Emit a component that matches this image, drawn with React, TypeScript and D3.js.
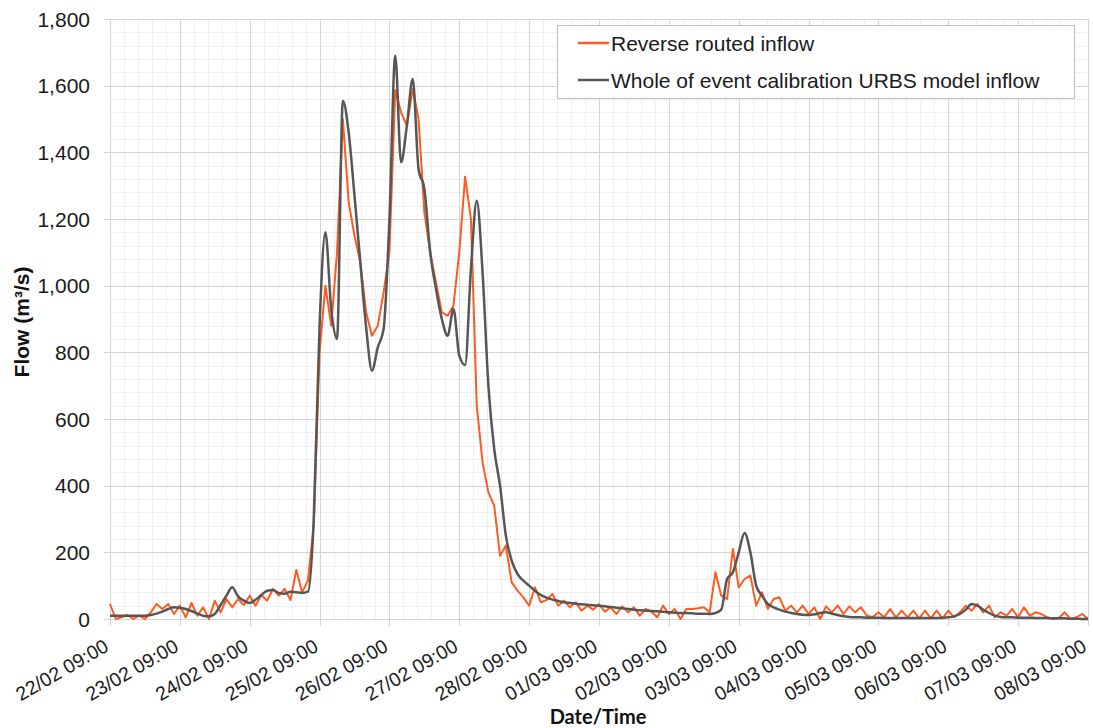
import React, { useEffect, useRef } from 'react';
import * as d3 from 'd3';

// time axis: 22/02 09:00 to 08/03 09:00, one value every 2 hours
const startTime = new Date(Date.UTC(2023, 1, 22, 9));
const stepHours = 2;
const dayCount = 14;
const flowTicks = [0, 200, 400, 600, 800, 1000, 1200, 1400, 1600, 1800];

const seriesNames = ['Reverse routed inflow', 'Whole of event calibration URBS model inflow'];
const seriesColors = ['#ff5a1f', '#565656'];

// Reverse routed inflow (m3/s)
const reverseRoutedFlow = [
  45, 0, 5, 12, 0, 10, 0, 20, 45, 30,
  45, 15, 40, 5, 48, 10, 35, 0, 55, 20,
  60, 35, 60, 42, 70, 40, 72, 55, 90, 70,
  90, 57, 147, 80, 115, 280, 800, 1000, 880, 1100,
  1500, 1250, 1150, 1070, 920, 850, 880, 980, 1100, 1587,
  1520, 1480, 1590, 1500, 1220, 1100, 1010, 920, 910, 940,
  1100, 1327, 1200, 640, 470, 380, 340, 190, 220, 110,
  85, 65, 40, 95, 50, 57, 75, 40, 55, 35,
  50, 25, 40, 28, 45, 22, 35, 15, 38, 20,
  35, 10, 30, 22, 5, 40, 15, 30, 0, 30,
  30, 32, 35, 20, 140, 70, 60, 210, 95, 120,
  130, 40, 80, 30, 60, 65, 25, 40, 20, 40,
  15, 35, 0, 38, 20, 40, 15, 38, 20, 35,
  10, 5, 20, 5, 30, 5, 25, 5, 25, 2,
  25, 2, 25, 2, 25, 5, 20, 40, 25, 45,
  20, 40, 5, 20, 10, 30, 5, 35, 10, 20,
  15, 5, 0, 3, 20, 0, 5, 15, 0
];

// Whole of event calibration URBS model inflow (m3/s)
const urbsModelFlow = [
  10, 10, 10, 10, 10, 10, 10, 12, 16, 22,
  30, 35, 34, 30, 24, 16, 10, 8, 15, 42,
  70, 95, 68, 55, 48, 58, 72, 85, 87, 78,
  76, 82, 80, 78, 82, 300, 880, 1160, 930, 840,
  1555, 1460, 1270, 1070, 875, 745, 815, 870, 1200, 1690,
  1370, 1480, 1620, 1350, 1290, 1100, 990, 900, 850, 930,
  790, 762, 1050, 1255, 1040, 700, 510, 400, 250, 175,
  135, 115, 100, 85, 72, 64, 58, 54, 50, 48,
  46, 44, 43, 41, 40, 38, 36, 34, 32, 30,
  28, 26, 25, 24, 23, 22, 20, 19, 18, 18,
  17, 16, 16, 15, 18, 28, 120, 140, 200, 258,
  200, 100, 70, 45, 35, 28, 22, 18, 15, 13,
  12, 14, 18, 20, 16, 12, 8, 6, 5, 5,
  4, 4, 4, 3, 3, 3, 3, 3, 3, 3,
  3, 3, 3, 4, 5, 8, 15, 28, 45, 40,
  28, 18, 10, 6, 5, 5, 4, 4, 4, 3,
  3, 3, 2, 2, 2, 1, 1, 0, 0
];

const width = 1093;
const height = 728;
const plot = { left: 110, right: 1088, top: 19, bottom: 619 };
const fontFamily = "'Liberation Sans', Arial, sans-serif";

const FlowChart = () => {
  const rootRef = useRef<SVGSVGElement>(null);

  useEffect(() => {
    const svg = d3.select(rootRef.current).attr('width', width).attr('height', height);
    svg.selectAll('*').remove();

    const hour = 3600 * 1000;
    const endTime = new Date(startTime.getTime() + dayCount * 24 * hour);
    const x = d3.scaleUtc().domain([startTime, endTime]).range([plot.left, plot.right]);
    const y = d3.scaleLinear().domain([0, 1800]).range([plot.bottom, plot.top]);

    const dayTicks = d3.range(dayCount + 1).map((d) => new Date(startTime.getTime() + d * 24 * hour));
    const minorX = d3.range(dayCount * 5 + 1).map((d) => new Date(startTime.getTime() + d * 4.8 * hour));
    const minorY = d3.range(0, 1801, 40);

    const grid = svg.append('g').attr('shape-rendering', 'crispEdges');
    grid
      .selectAll('.minor-x')
      .data(minorX)
      .enter()
      .append('line')
      .attr('x1', (d) => Math.round(x(d)) + 0.5)
      .attr('x2', (d) => Math.round(x(d)) + 0.5)
      .attr('y1', plot.top)
      .attr('y2', plot.bottom)
      .attr('stroke', '#efefef');
    grid
      .selectAll('.minor-y')
      .data(minorY)
      .enter()
      .append('line')
      .attr('x1', plot.left)
      .attr('x2', plot.right)
      .attr('y1', (d) => Math.round(y(d)) + 0.5)
      .attr('y2', (d) => Math.round(y(d)) + 0.5)
      .attr('stroke', '#efefef');
    grid
      .selectAll('.major-x')
      .data(dayTicks)
      .enter()
      .append('line')
      .attr('x1', (d) => Math.round(x(d)) + 0.5)
      .attr('x2', (d) => Math.round(x(d)) + 0.5)
      .attr('y1', plot.top)
      .attr('y2', plot.bottom + 7)
      .attr('stroke', '#d4d4d4');
    grid
      .selectAll('.major-y')
      .data(flowTicks)
      .enter()
      .append('line')
      .attr('x1', plot.left - 6)
      .attr('x2', plot.right)
      .attr('y1', (d) => Math.round(y(d)) + 0.5)
      .attr('y2', (d) => Math.round(y(d)) + 0.5)
      .attr('stroke', '#d4d4d4');

    // y tick labels
    svg
      .append('g')
      .selectAll('text')
      .data(flowTicks)
      .enter()
      .append('text')
      .attr('x', 90)
      .attr('y', (d) => y(d))
      .attr('dy', '0.36em')
      .attr('text-anchor', 'end')
      .attr('font-family', fontFamily)
      .attr('font-size', 21)
      .attr('fill', '#1a1a1a')
      .text((d) => d3.format(',')(d));

    // x tick labels
    const fmt = d3.utcFormat('%d/%m %H:%M');
    svg
      .append('g')
      .selectAll('text')
      .data(dayTicks)
      .enter()
      .append('text')
      .attr('transform', (d) => `translate(${x(d)},${650}) rotate(-30)`)
      .attr('text-anchor', 'end')
      .attr('font-family', fontFamily)
      .attr('font-size', 19.5)
      .attr('fill', '#1a1a1a')
      .text((d) => fmt(d));

    // series
    const series = [reverseRoutedFlow, urbsModelFlow];
    series.forEach((values, k) => {
      const line = d3
        .line<number>()
        .x((_, i) => x(new Date(startTime.getTime() + i * stepHours * hour)))
        .y((d) => y(d))
        .curve(k === 0 ? d3.curveLinear : d3.curveMonotoneX);
      svg
        .append('path')
        .datum(values)
        .attr('fill', 'none')
        .attr('stroke', seriesColors[k])
        .attr('stroke-width', k === 0 ? 2 : 2.5)
        .attr('stroke-linejoin', 'round')
        .attr('d', line);
    });

    // axis titles
    svg
      .append('text')
      .attr('transform', 'translate(29,322) rotate(-90)')
      .attr('text-anchor', 'middle')
      .attr('font-family', fontFamily)
      .attr('font-weight', 'bold')
      .attr('font-size', 21)
      .attr('fill', '#111')
      .text('Flow (m³/s)');
    svg
      .append('text')
      .attr('x', 598)
      .attr('y', 724)
      .attr('text-anchor', 'middle')
      .attr('font-family', "Lato, 'Liberation Sans', sans-serif")
      .attr('font-weight', 'bold')
      .attr('font-size', 20)
      .attr('fill', '#111')
      .text('Date/Time');

    // legend
    const legend = svg.append('g');
    legend
      .append('rect')
      .attr('x', 557.5)
      .attr('y', 25.5)
      .attr('width', 517)
      .attr('height', 73)
      .attr('fill', 'white')
      .attr('stroke', '#bdbdbd');
    seriesNames.forEach((name, k) => {
      const ly = 43 + k * 37;
      legend
        .append('line')
        .attr('x1', 578)
        .attr('x2', 609)
        .attr('y1', ly)
        .attr('y2', ly)
        .attr('stroke', seriesColors[k])
        .attr('stroke-width', 2.5);
      legend
        .append('text')
        .attr('x', 611)
        .attr('y', ly)
        .attr('dy', '0.36em')
        .attr('font-family', fontFamily)
        .attr('font-size', 21)
        .attr('fill', '#1a1a1a')
        .text(name);
    });
  }, []);

  return <svg ref={rootRef} style={{ position: 'absolute', left: 0, top: 0 }}></svg>;
};

export default function App() {
  return <FlowChart />;
}
